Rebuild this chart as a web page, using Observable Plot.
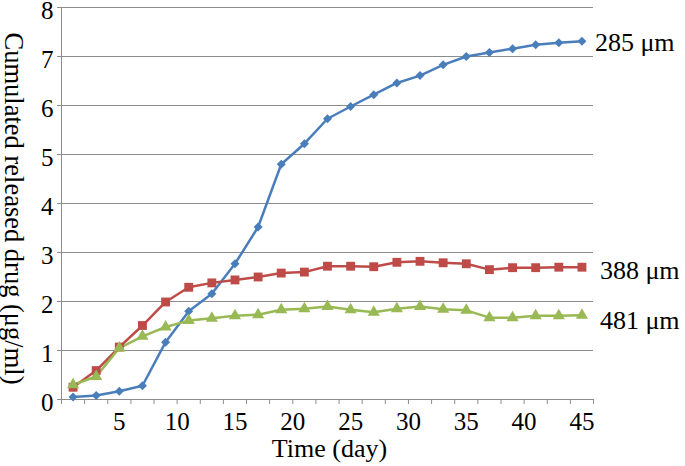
<!DOCTYPE html>
<html>
<head>
<meta charset="utf-8">
<script src="https://cdn.jsdelivr.net/npm/d3@7"></script>
<script src="https://cdn.jsdelivr.net/npm/@observablehq/plot@0.6"></script>
<style>
  html, body { margin: 0; padding: 0; background: #fff; }
  svg { display: block; }
</style>
</head>
<body>
<div id="chart"></div>
<script>
const days = [1,3,5,7,9,11,13,15,17,19,21,23,25,27,29,31,33,35,37,39,41,43,45];
const s285 = [0.05,0.08,0.17,0.28,1.17,1.80,2.16,2.77,3.52,4.80,5.22,5.73,5.98,6.22,6.46,6.61,6.83,7.00,7.08,7.16,7.24,7.28,7.31];
const s388 = [0.25,0.59,1.07,1.51,1.99,2.29,2.38,2.44,2.50,2.58,2.60,2.72,2.72,2.71,2.80,2.82,2.79,2.77,2.65,2.69,2.69,2.70,2.70];
const s481 = [0.30,0.47,1.05,1.29,1.48,1.61,1.66,1.71,1.73,1.83,1.85,1.90,1.83,1.78,1.85,1.90,1.84,1.82,1.67,1.67,1.71,1.71,1.72];
const seriesNames = ["285 μm", "388 μm", "481 μm"];
const seriesColors = ["#4a7ebb", "#be4b48", "#98b954"];
const xTickLabels = [5,10,15,20,25,30,35,40,45];
const yTicks = [0,1,2,3,4,5,6,7,8];
const xMinorTicks = d3.range(0, 47, 2);

const rows = [];
[s285, s388, s481].forEach((vals, k) => {
  vals.forEach((v, i) => rows.push({series: seriesNames[k], day: days[i], value: v}));
});
const bySeries = name => rows.filter(r => r.series === name);
const lastOf = name => [bySeries(name).at(-1)];

const font = "Liberation Serif";
const grey = "#8c8c8c";

const chart = Plot.plot({
  width: 685,
  height: 466,
  marginLeft: 61,
  marginRight: 92,
  marginTop: 7,
  marginBottom: 67,
  style: {fontFamily: font, color: "#000", background: "#fff", overflow: "visible"},
  x: {domain: [0, 46]},
  y: {domain: [0, 8]},
  marks: [
    Plot.gridY(yTicks.filter(d => d > 0), {stroke: grey, strokeOpacity: 1, strokeWidth: 1}),
    Plot.ruleX([0], {stroke: grey, strokeWidth: 1}),
    Plot.ruleY([0], {stroke: grey, strokeWidth: 1}),
    Plot.axisY(yTicks, {tickSize: 4, tickPadding: 4, fontSize: 25, fontFamily: font, stroke: grey, label: null, tickFormat: d => String(d)}),
    Plot.axisX(xMinorTicks, {tickSize: 5, tickFormat: () => "", stroke: grey, label: null}),
    Plot.axisX(xTickLabels, {tickSize: 0, tickPadding: 13, fontSize: 25, fontFamily: font, label: null, tickFormat: d => String(d)}),
    Plot.text(["Time (day)"], {frameAnchor: "bottom", dy: 57, dx: 2, fontSize: 26, fontFamily: font, fill: "#000"}),
    Plot.text(["Cumulated released drug (μg/ml)"], {frameAnchor: "left", textAnchor: "middle", dx: -48, dy: 5, rotate: 90, fontSize: 26.5, fontFamily: font, fill: "#000"}),
    ...seriesNames.map((n, k) => Plot.line(bySeries(n), {x: "day", y: "value", stroke: seriesColors[k], strokeWidth: 2.5})),
    Plot.dot(bySeries(seriesNames[0]), {x: "day", y: "value", symbol: "square", rotate: 45, r: 3.6, fill: seriesColors[0]}),
    Plot.dot(bySeries(seriesNames[1]), {x: "day", y: "value", symbol: "square", r: 5, fill: seriesColors[1]}),
    Plot.dot(bySeries(seriesNames[2]), {x: "day", y: "value", symbol: "triangle", r: 4.5, fill: seriesColors[2]}),
    Plot.text(lastOf(seriesNames[0]), {x: "day", y: "value", text: "series", textAnchor: "start", dx: 13, dy: 1, fontSize: 26, fontFamily: font, fill: "#000"}),
    Plot.text(lastOf(seriesNames[1]), {x: "day", y: "value", text: "series", textAnchor: "start", dx: 18, dy: 3, fontSize: 26, fontFamily: font, fill: "#000"}),
    Plot.text(lastOf(seriesNames[2]), {x: "day", y: "value", text: "series", textAnchor: "start", dx: 18, dy: 5, fontSize: 26, fontFamily: font, fill: "#000"})
  ]
});
d3.select(chart).selectAll("text").style("font-family", "'Liberation Serif', serif");
// nudge the y tick labels slightly below their gridlines, as in the reference
d3.select(chart).selectAll('g[aria-label="y-axis tick label"]').each(function() {
  const t = this.getAttribute("transform") || "";
  this.setAttribute("transform", (t + " translate(0,3)").trim());
});
document.getElementById("chart").append(chart);
</script>
</body>
</html>
